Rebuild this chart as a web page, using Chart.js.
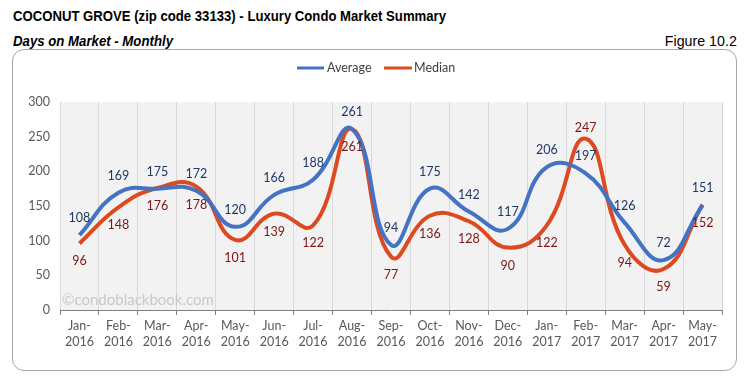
<!DOCTYPE html>
<html>
<head>
<meta charset="utf-8">
<script src="https://cdn.jsdelivr.net/npm/chart.js@4"></script>
<style>
  html, body { margin:0; padding:0; background:#fff; width:749px; height:385px; overflow:hidden; }
  .t { position:absolute; white-space:nowrap; color:#000; }
  #title { left:13px; top:7px; font: bold 15px "Liberation Sans Narrow", "Arial Narrow", "Liberation Sans", Arial, sans-serif; transform-origin:left center; }
  #sub { left:13px; top:33px; font: italic bold 14px "Liberation Sans Narrow", "Arial Narrow", "Liberation Sans", Arial, sans-serif; transform-origin:left center; }
  #fig { right:12px; top:33px; font: 14px "Liberation Sans Narrow", "Arial Narrow", "Liberation Sans", Arial, sans-serif; transform-origin:right center; }
  #box { position:absolute; left:12px; top:49px; width:725px; height:322px; border:1px solid #a6a6a6; border-radius:12px; box-sizing:border-box; }
  #c { position:absolute; left:0; top:0; }
</style>
</head>
<body>
<div class="t" id="title">COCONUT GROVE (zip code 33133) - Luxury Condo Market Summary</div>
<div class="t" id="sub">Days on Market - Monthly</div>
<div class="t" id="fig">Figure 10.2</div>
<div id="box"></div>
<canvas id="c" width="749" height="385"></canvas>
<script>
// ---- data ----
const months = ['Jan-','Feb-','Mar-','Apr-','May-','Jun-','Jul-','Aug-','Sep-','Oct-','Nov-','Dec-','Jan-','Feb-','Mar-','Apr-','May-'];
const years = ['2016','2016','2016','2016','2016','2016','2016','2016','2016','2016','2016','2016','2017','2017','2017','2017','2017'];
const averageDays = [108,169,175,172,120,166,188,261,94,175,142,117,206,197,126,72,151];
const medianDays  = [96,148,176,178,101,139,122,261,77,136,128,90,122,247,94,59,152];
const yTicks = [0,50,100,150,200,250,300];

// fit header texts to reference widths
function fit(id, w) {
  const el = document.getElementById(id);
  const r = el.getBoundingClientRect().width;
  if (r > 0) el.style.transform = 'scaleX(' + (w / r) + ')';
}
fit('title', 433); fit('sub', 160); fit('fig', 72);

const labels = months.map((m, i) => [m, years[i]]);
const BLUE = '#4472C4', RED = '#DE4A1F';
const AVG_LBL = '#203864', MED_LBL = '#7F1414';
const FONT = 'Lato, "Open Sans", sans-serif';

const bgPlugin = {
  id: 'bg',
  beforeDraw(chart) {
    const a = chart.chartArea, ctx = chart.ctx;
    ctx.save();
    ctx.fillStyle = '#f2f2f2';
    ctx.fillRect(a.left, a.top, a.right - a.left, a.bottom - a.top);
    ctx.restore();
  },
  beforeDatasetsDraw(chart) {
    const a = chart.chartArea, ctx = chart.ctx;
    ctx.save();
    ctx.font = '15px ' + FONT;
    ctx.fillStyle = '#c9c9c9';
    ctx.textBaseline = 'middle';
    ctx.textAlign = 'left';
    ctx.fillText('\u00A9condoblackbook.com', a.left + 2, 300);
    ctx.restore();
  },
  afterDatasetsDraw(chart) {
    const ctx = chart.ctx;
    ctx.save();
    ctx.font = '12.5px ' + FONT;
    ctx.textAlign = 'center';
    ctx.textBaseline = 'middle';
    const m0 = chart.getDatasetMeta(0), m1 = chart.getDatasetMeta(1);
    m0.data.forEach((p, i) => {
      ctx.fillStyle = AVG_LBL;
      ctx.fillText(String(averageDays[i]), p.x, p.y - 17);
    });
    m1.data.forEach((p, i) => {
      ctx.fillStyle = MED_LBL;
      const above = (i === 13);
      ctx.fillText(String(medianDays[i]), p.x, above ? p.y - 11 : p.y + 18);
    });
    // legend
    const items = [
      {x0: 297, x1: 324, tx: 327, c: BLUE, t: 'Average'},
      {x0: 384, x1: 412, tx: 414, c: RED, t: 'Median'}
    ];
    ctx.font = '12.5px ' + FONT;
    ctx.textAlign = 'left';
    items.forEach(it => {
      ctx.strokeStyle = it.c; ctx.lineWidth = 3; ctx.lineCap = 'butt';
      ctx.beginPath(); ctx.moveTo(it.x0, 68); ctx.lineTo(it.x1, 68); ctx.stroke();
      ctx.fillStyle = '#404040';
      ctx.fillText(it.t, it.tx, 68);
    });
    ctx.restore();
  }
};

new Chart(document.getElementById('c'), {
  type: 'line',
  data: {
    labels: labels,
    datasets: [
      { label: 'Average', data: averageDays, borderColor: BLUE, backgroundColor: BLUE, borderWidth: 4, tension: 0.45, pointRadius: 0, fill: false },
      { label: 'Median', data: medianDays, borderColor: RED, backgroundColor: RED, borderWidth: 4, tension: 0.45, pointRadius: 0, fill: false }
    ]
  },
  options: {
    responsive: false,
    animation: false,
    devicePixelRatio: 1,
    layout: { padding: { top: 102, right: 27, left: 0, bottom: 0 } },
    plugins: { legend: { display: false }, tooltip: { enabled: false } },
    scales: {
      x: {
        offset: true,
        grid: { offset: true, color: '#d9d9d9', tickColor: '#7f7f7f', tickLength: 5, drawOnChartArea: true },
        border: { color: '#7f7f7f', width: 1 },
        ticks: { color: '#595959', font: { family: FONT, size: 12.5, lineHeight: 1.3 }, padding: 3, maxRotation: 0, autoSkip: false },
        afterFit(s) { s.height = 75; }
      },
      y: {
        min: 0, max: 300,
        afterBuildTicks(s) { s.ticks = yTicks.map(v => ({ value: v })); },
        grid: { display: false, drawTicks: false },
        border: { display: false },
        ticks: { color: '#595959', font: { family: FONT, size: 12.5 }, padding: 10 },
        afterFit(s) { s.width = 60; }
      }
    }
  },
  plugins: [bgPlugin]
});
</script>
</body>
</html>
